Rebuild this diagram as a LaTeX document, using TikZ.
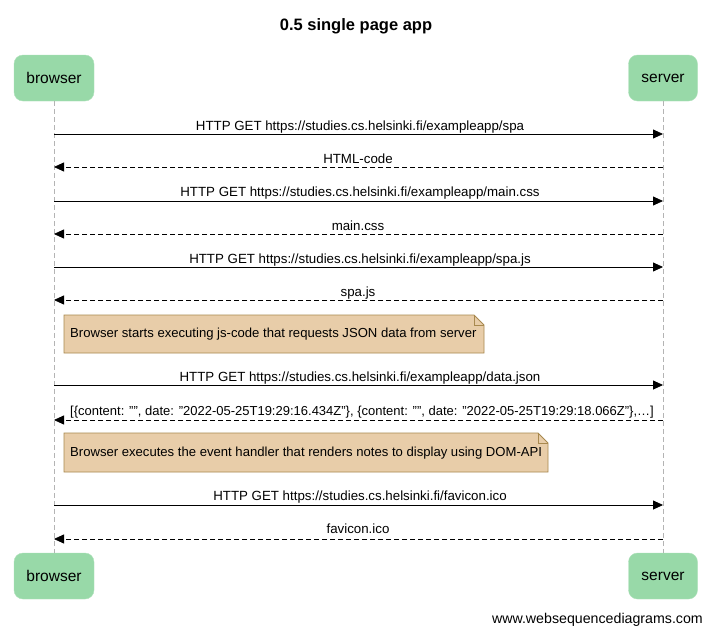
\documentclass[tikz,border=0pt]{standalone}
\usepackage{fontspec}
\setmainfont{Liberation Sans}
\usetikzlibrary{arrows.meta}
\definecolor{partfill}{HTML}{98D9A8}
\definecolor{notefill}{HTML}{E8CDA9}
\definecolor{notedraw}{HTML}{A8894F}
\definecolor{lifegray}{HTML}{B4B4B4}
\newcommand{\dq}{\char34\relax}
\tikzset{
  part/.style={fill=partfill, draw=partfill!80!white, rounded corners=9pt, minimum width=#1, minimum height=46pt, inner sep=0pt, font=\fontsize{15.5}{18}\selectfont},
  lifeline/.style={draw=lifegray, dashed, dash pattern=on 5pt off 3pt, line width=0.8pt},
  req/.style={draw=black, line width=0.8pt, -{Triangle[length=10pt,width=9pt]}},
  resp/.style={draw=black, line width=0.8pt, dash pattern=on 5pt off 3pt, -{Triangle[length=10pt,width=9pt]}},
  msg/.style={font=\fontsize{13.3}{15}\selectfont, inner sep=0pt, anchor=base},
  notetext/.style={font=\fontsize{13.1}{15}\selectfont, inner sep=0pt, anchor=west},
  notebox/.style={fill=notefill, draw=notedraw, line width=0.8pt}
}
\begin{document}
\begin{tikzpicture}[x=1pt,y=-1pt]
\useasboundingbox (0,0) rectangle (720,643);
\fill[white] (0,0) rectangle (720,643);
\node[font=\bfseries\fontsize{16.5}{19}\selectfont, anchor=base] (title) at (356,30) {0.5 single page app};
% participants
\node[part=80pt] (bt) at (54,78) {browser};
\node[part=69pt] (st) at (663,78) {server};
\node[part=80pt] (bb) at (54,576) {browser};
\node[part=69pt] (sb) at (663,576) {server};
\draw[lifeline] (bt.south) -- (bb.north);
\draw[lifeline] (st.south) -- (sb.north);
% message coordinates
\foreach \i/\y in {1/134,2/167,3/201,4/234,5/267,6/300,7/385,8/420,9/505,10/539}{
  \coordinate (b\i) at (54,\y);
  \coordinate (s\i) at (663,\y);
}
\draw[req] (b1) -- (s1);
\node[msg] (m1) at (360,130) {HTTP GET https://studies.cs.helsinki.fi/exampleapp/spa};
\draw[resp] (s2) -- (b2);
\node[msg] (m2) at (358,163) {HTML-code};
\draw[req] (b3) -- (s3);
\node[msg] (m3) at (360,196) {HTTP GET https://studies.cs.helsinki.fi/exampleapp/main.css};
\draw[resp] (s4) -- (b4);
\node[msg] (m4) at (358,230) {main.css};
\draw[req] (b5) -- (s5);
\node[msg] (m5) at (360,263) {HTTP GET https://studies.cs.helsinki.fi/exampleapp/spa.js};
\draw[resp] (s6) -- (b6);
\node[msg] (m6) at (358,296) {spa.js};
% note 1
\draw[notebox] (64,315) -- (474,315) -- (484,325) -- (484,353) -- (64,353) -- cycle;
\draw[notedraw, line width=0.8pt] (474,315) -- (474,325) -- (484,325);
\node[notetext] (n1) at (70,334) {Browser starts executing js-code that requests JSON data from server};
\draw[req] (b7) -- (s7);
\node[msg] (m7) at (360,381) {HTTP GET https://studies.cs.helsinki.fi/exampleapp/data.json};
\draw[resp] (s8) -- (b8);
\node[msg, font=\fontsize{13}{15}\selectfont] (m8) at (362,415) {[\{content: \dq\dq, date: \dq 2022-05-25T19:29:16.434Z\dq\}, \{content: \dq\dq, date: \dq 2022-05-25T19:29:18.066Z\dq\},…]};
% note 2
\draw[notebox] (64,433) -- (538,433) -- (548,443) -- (548,472) -- (64,472) -- cycle;
\draw[notedraw, line width=0.8pt] (538,433) -- (538,443) -- (548,443);
\node[notetext] (n2) at (70,453) {Browser executes the event handler that renders notes to display using DOM-API};
\draw[req] (b9) -- (s9);
\node[msg] (m9) at (360,500) {HTTP GET https://studies.cs.helsinki.fi/favicon.ico};
\draw[resp] (s10) -- (b10);
\node[msg] (m10) at (358,533) {favicon.ico};
\node[msg, font=\fontsize{14.2}{16}\selectfont, anchor=base east] (web) at (703,623) {www.websequencediagrams.com};
\end{tikzpicture}
\end{document}
